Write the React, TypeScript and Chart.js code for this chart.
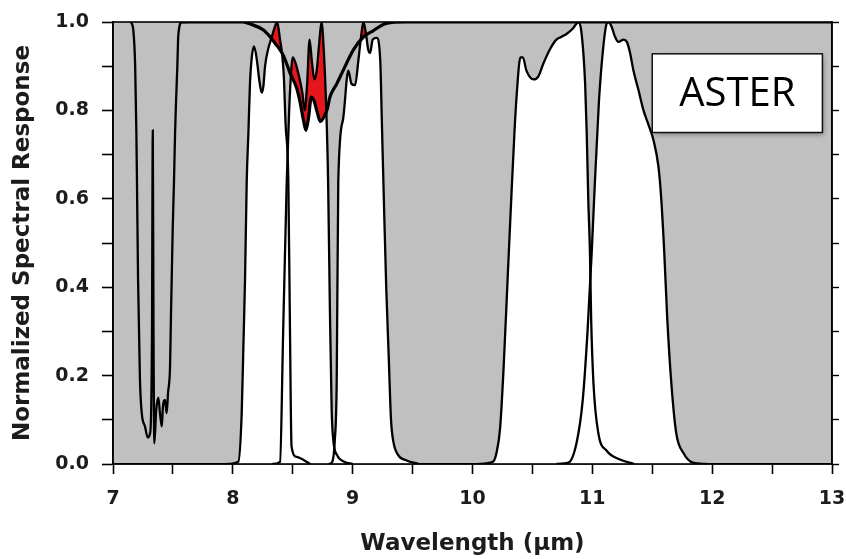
import React, { useEffect, useRef } from 'react';
import { Chart, registerables } from 'chart.js';

Chart.register(...registerables);

// ---------- data ----------
const xTickLabels = ['7', '8', '9', '10', '11', '12', '13'];
const yTickLabels = ['0.0', '0.2', '0.4', '0.6', '0.8', '1.0'];

// emissivity-like reference curve (thick black, 8-9.5 µm)
const emisX = [7.55, 8.08, 8.15, 8.255, 8.31, 8.352, 8.394, 8.42, 8.45, 8.477, 8.533, 8.56, 8.588, 8.61, 8.63, 8.655, 8.68, 8.705, 8.73, 8.76, 8.79, 8.81, 8.867, 8.92, 9.006, 9.09, 9.17, 9.28, 9.45, 13];
const emisY = [1, 1, 0.995, 0.982, 0.967, 0.952, 0.937, 0.925, 0.905, 0.885, 0.85, 0.82, 0.78, 0.755, 0.78, 0.83, 0.82, 0.795, 0.775, 0.785, 0.805, 0.83, 0.86, 0.89, 0.937, 0.966, 0.98, 0.997, 1, 1];

// narrow absorption-like curve near 7.3 µm
const leftX = [7.15, 7.17, 7.185, 7.195, 7.2, 7.209, 7.225, 7.24, 7.267, 7.29, 7.31, 7.325, 7.332, 7.338, 7.345, 7.36, 7.378, 7.392, 7.407, 7.417, 7.434, 7.448, 7.459, 7.476, 7.484, 7.49, 7.498, 7.509, 7.518, 7.526, 7.537, 7.545, 7.575, 7.62];
const leftY = [1, 0.98, 0.9, 0.75, 0.64, 0.42, 0.19, 0.115, 0.085, 0.06, 0.07, 0.28, 0.755, 0.3, 0.047, 0.12, 0.15, 0.115, 0.085, 0.13, 0.145, 0.115, 0.16, 0.22, 0.34, 0.42, 0.53, 0.64, 0.75, 0.82, 0.9, 0.97, 1, 1];

// ASTER TIR bands
const band10X = [7.95, 8.046, 8.074, 8.088, 8.102, 8.116, 8.13, 8.143, 8.158, 8.177, 8.2, 8.22, 8.241, 8.255, 8.269, 8.296, 8.325, 8.352, 8.37, 8.394, 8.41, 8.425, 8.44, 8.463, 8.475, 8.49, 8.533, 8.645];
const band10Y = [0, 0.005, 0.115, 0.265, 0.42, 0.64, 0.75, 0.86, 0.92, 0.945, 0.915, 0.87, 0.84, 0.855, 0.9, 0.94, 0.966, 0.99, 1, 0.96, 0.93, 0.88, 0.77, 0.64, 0.35, 0.04, 0.016, 0];

const band11X = [8.33, 8.394, 8.42, 8.45, 8.47, 8.49, 8.5, 8.52, 8.55, 8.58, 8.6, 8.62, 8.64, 8.66, 8.68, 8.7, 8.72, 8.74, 8.76, 8.78, 8.795, 8.81, 8.825, 8.84, 8.87, 8.93, 9.0];
const band11Y = [0, 0.005, 0.3, 0.64, 0.8, 0.9, 0.92, 0.91, 0.88, 0.84, 0.8, 0.86, 0.96, 0.91, 0.87, 0.89, 0.95, 1, 0.93, 0.8, 0.64, 0.35, 0.12, 0.05, 0.02, 0.005, 0];

const band12X = [8.8, 8.826, 8.85, 8.867, 8.88, 8.92, 8.964, 8.99, 9.02, 9.048, 9.076, 9.09, 9.11, 9.13, 9.145, 9.167, 9.2, 9.23, 9.243, 9.26, 9.28, 9.3, 9.32, 9.34, 9.38, 9.45, 9.55];
const band12Y = [0, 0.003, 0.05, 0.19, 0.64, 0.78, 0.89, 0.86, 0.857, 0.914, 0.98, 1, 0.975, 0.937, 0.93, 0.96, 0.964, 0.914, 0.78, 0.6, 0.4, 0.25, 0.1, 0.05, 0.02, 0.008, 0];

const band13X = [10.05, 10.17, 10.2, 10.23, 10.26, 10.29, 10.32, 10.35, 10.37, 10.4, 10.42, 10.45, 10.51, 10.55, 10.59, 10.65, 10.7, 10.74, 10.79, 10.84, 10.885, 10.91, 10.94, 10.953, 10.966, 10.98, 10.99, 11.01, 11.05, 11.12, 11.23, 11.35];
const band13Y = [0, 0.005, 0.025, 0.08, 0.22, 0.4, 0.58, 0.75, 0.84, 0.92, 0.92, 0.89, 0.87, 0.877, 0.905, 0.94, 0.96, 0.966, 0.974, 0.986, 1, 0.975, 0.86, 0.75, 0.6, 0.48, 0.33, 0.18, 0.07, 0.03, 0.01, 0];

const band14X = [10.7, 10.8, 10.87, 10.92, 10.96, 10.995, 11.015, 11.055, 11.09, 11.12, 11.134, 11.16, 11.19, 11.218, 11.26, 11.288, 11.315, 11.343, 11.385, 11.427, 11.469, 11.51, 11.552, 11.575, 11.6, 11.625, 11.66, 11.7, 11.76, 11.84, 11.95];
const band14Y = [0, 0.003, 0.05, 0.145, 0.3, 0.48, 0.6, 0.82, 0.94, 0.997, 1, 0.99, 0.966, 0.955, 0.96, 0.955, 0.93, 0.89, 0.846, 0.8, 0.767, 0.733, 0.672, 0.6, 0.48, 0.33, 0.18, 0.07, 0.025, 0.003, 0];

const boxLabel = 'ASTER';

// ---------- helpers ----------
const pts = (xs: number[], ys: number[]) => xs.map((x, i) => ({ x, y: ys[i] }));

const FONT = "'DejaVu Sans', sans-serif";
const TXT = '#1c1c1c';

const framePlugin = {
  id: 'frameAndBox',
  beforeDraw(chart: any) {
    const { ctx, chartArea: a } = chart;
    ctx.save();
    ctx.fillStyle = '#c0c0c0';
    ctx.fillRect(a.left, a.top, a.right - a.left, a.bottom - a.top);
    ctx.restore();
  },
  afterDatasetsDraw(chart: any) {
    const { ctx, chartArea: a, scales } = chart;
    ctx.save();
    ctx.strokeStyle = '#000';
    ctx.lineWidth = 1.6;
    ctx.strokeRect(a.left, a.top, a.right - a.left, a.bottom - a.top);

    // label box
    const x0 = scales.x.getPixelForValue(11.5);
    const x1 = scales.x.getPixelForValue(12.92);
    const y0 = scales.y.getPixelForValue(0.928);
    const y1 = scales.y.getPixelForValue(0.75);
    ctx.shadowColor = 'rgba(0,0,0,0.35)';
    ctx.shadowBlur = 5;
    ctx.shadowOffsetX = 2;
    ctx.shadowOffsetY = 2;
    ctx.fillStyle = '#fff';
    ctx.fillRect(x0, y0, x1 - x0, y1 - y0);
    ctx.shadowColor = 'rgba(0,0,0,0)';
    ctx.lineWidth = 1.5;
    ctx.strokeStyle = '#111';
    ctx.strokeRect(x0, y0, x1 - x0, y1 - y0);
    ctx.fillStyle = '#000';
    ctx.font = "40px 'Open Sans', 'Noto Sans', sans-serif";
    ctx.textAlign = 'center';
    ctx.textBaseline = 'middle';
    ctx.fillText(boxLabel, (x0 + x1) / 2, (y0 + y1) / 2 + 1);
    ctx.restore();
  },
};

export default function App() {
  const ref = useRef<HTMLCanvasElement | null>(null);

  useEffect(() => {
    if (!ref.current) return;
    const bands = [
      pts(band10X, band10Y),
      pts(band11X, band11Y),
      pts(band12X, band12Y),
      pts(band13X, band13Y),
      pts(band14X, band14Y),
    ];
    const base = {
      pointRadius: 0,
      pointHoverRadius: 0,
      cubicInterpolationMode: 'monotone' as const,
    };
    const datasets: any[] = [];
    // 0: emissivity line
    datasets.push({ ...base, label: 'emissivity', data: pts(emisX, emisY), borderColor: '#000', borderWidth: 3.2, fill: false, order: 1 });
    // 1: left curve
    datasets.push({ ...base, label: 'left', data: pts(leftX, leftY), borderColor: '#000', borderWidth: 2.3, fill: false, order: 1 });
    // 2-6: band lines
    bands.forEach((d, i) => datasets.push({ ...base, label: 'band ' + (10 + i), data: d, borderColor: '#000', borderWidth: 2.3, fill: false, order: 2 }));
    // 7-11: white fills
    bands.forEach((d, i) => datasets.push({ ...base, label: 'fill ' + (10 + i), data: d, borderColor: 'rgba(0,0,0,0)', borderWidth: 0, backgroundColor: '#ffffff', fill: 'origin', order: 30 }));
    // 12-14: red where band exceeds emissivity
    bands.slice(0, 3).forEach((d, i) => datasets.push({ ...base, label: 'red ' + (10 + i), data: d, borderColor: 'rgba(0,0,0,0)', borderWidth: 0, fill: { target: 0, above: '#e5161c', below: 'rgba(0,0,0,0)' }, order: 20 }));

    const chart = new Chart(ref.current, {
      type: 'line',
      data: { datasets },
      plugins: [framePlugin],
      options: {
        responsive: false,
        maintainAspectRatio: false,
        devicePixelRatio: 1,
        animation: false,
        layout: { padding: { top: 22, left: 0, right: 0, bottom: 0 } },
        plugins: { legend: { display: false }, tooltip: { enabled: false } },
        scales: {
          x: {
            type: 'linear',
            position: 'bottom',
            min: 7,
            max: 13,
            afterFit: (s: any) => { s.height = 95; s.paddingLeft = 0; s.paddingRight = 0; },
            ticks: {
              stepSize: 0.5,
              autoSkip: false,
              maxRotation: 0,
              padding: 14,
              color: TXT,
              font: { family: FONT, size: 19, weight: 'bold' },
              callback: (v: any) => {
                const n = Number(v);
                return Number.isInteger(n) ? xTickLabels[n - 7] : '';
              },
            },
            grid: { drawOnChartArea: false, drawTicks: true, tickLength: 10, tickColor: '#000', tickWidth: 1.6 },
            border: { display: true, color: '#000', width: 1.6 },
            title: { display: true, text: 'Wavelength (μm)', color: TXT, font: { family: FONT, size: 23, weight: 'bold' }, padding: { top: 0, bottom: 1 } },
          },
          y: {
            type: 'linear',
            position: 'left',
            min: 0,
            max: 1,
            afterFit: (s: any) => { s.width = 113; s.paddingTop = 0; s.paddingBottom = 0; },
            ticks: {
              stepSize: 0.1,
              padding: 13,
              color: TXT,
              font: { family: FONT, size: 19, weight: 'bold' },
              callback: (v: any) => {
                const r = Math.round(Number(v) * 10);
                return r % 2 === 0 ? yTickLabels[r / 2] : '';
              },
            },
            grid: { drawOnChartArea: false, drawTicks: true, tickLength: 11, tickColor: '#000', tickWidth: 1.6 },
            border: { display: true, color: '#000', width: 1.6 },
            title: { display: true, text: 'Normalized Spectral Response', color: TXT, font: { family: FONT, size: 23, weight: 'bold' }, padding: { top: 9, bottom: 0 } },
          },
          y2: {
            type: 'linear',
            position: 'right',
            min: 0,
            max: 1,
            afterFit: (s: any) => { s.width = 14; s.paddingTop = 0; s.paddingBottom = 0; },
            ticks: { display: false, stepSize: 0.1 },
            grid: { drawOnChartArea: false, drawTicks: true, tickLength: 7, tickColor: '#000', tickWidth: 1.4 },
            border: { display: true, color: '#000', width: 1.6 },
          },
        },
      },
    } as any);
    return () => chart.destroy();
  }, []);

  return (
    <div style={{ position: 'absolute', left: 0, top: 0, width: 846, height: 559, background: '#fff' }}>
      <canvas ref={ref} width={846} height={559} style={{ display: 'block', width: 846, height: 559 }} />
    </div>
  );
}
